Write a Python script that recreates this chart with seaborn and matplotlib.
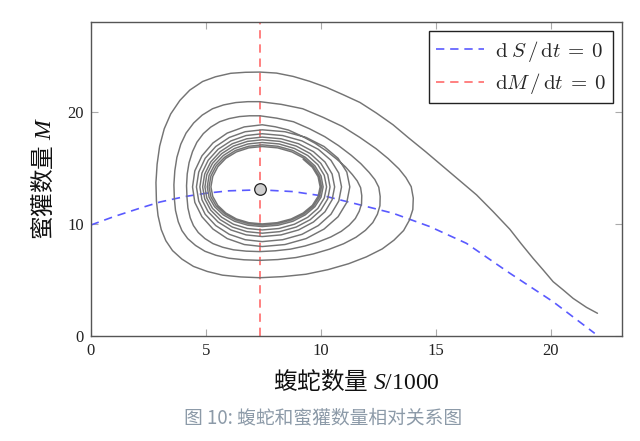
import matplotlib
matplotlib.use("Agg")
import matplotlib.pyplot as plt
import seaborn as sns

# ---------------- data ----------------
x_ticks = [0, 5, 10, 15, 20]
y_ticks = [0, 10, 20]

# equilibrium point
eq_S = [7.35]
eq_M = [13.1]

# dS/dt = 0 nullcline (blue dashed)
null_S = [0, 1.0, 2.13, 3.0, 4.09, 5.03, 6.0, 7.35, 8.8, 10.25, 11.7, 13.14, 14.74, 16.33, 18.22, 20.1, 21.91]
null_M = [9.9, 10.65, 11.4, 11.95, 12.44, 12.74, 12.95, 13.04, 12.88, 12.44, 11.7, 10.95, 9.76, 8.27, 5.6, 3.06, 0.24]

# dM/dt = 0 nullcline (red dashed vertical)
vline_S = [7.35, 7.35]
vline_M = [0, 28]

# trajectory (spiral), counter-clockwise, starting at lower right
start_S = [22.03, 21.55, 20.97, 20.54, 20.10, 19.67, 19.23, 18.72, 18.22, 17.49, 16.77, 15.61,
           14.55, 13.80, 13.14, 12.42, 11.70, 10.97, 10.25, 9.52, 8.80, 8.07]
start_M = [2.03, 2.56, 3.36, 4.11, 4.85, 5.89, 6.93, 8.21, 9.52, 11.10, 12.59, 14.61,
           16.45, 17.70, 18.84, 19.88, 20.83, 21.52, 22.17, 22.71, 23.15, 23.45]

loop1_S = [7.35, 6.72, 6.08, 5.42, 4.86, 4.30, 3.87, 3.47, 3.19, 2.99, 2.88, 2.83, 2.85, 2.92, 3.06, 3.26,
           3.55, 3.96, 4.46, 5.06, 5.72, 6.52, 7.35, 8.35, 9.35, 10.31, 11.21, 11.98, 12.67, 13.18,
           13.60, 13.85, 14.00, 14.02, 13.93, 13.70, 13.40, 12.93, 12.40, 11.69, 10.94, 10.09, 9.21, 8.28]
loop1_M = [23.54, 23.52, 23.43, 23.12, 22.70, 21.93, 21.01, 19.80, 18.48, 16.93, 15.32, 13.69, 12.06, 10.74, 9.49, 8.50,
           7.62, 6.86, 6.21, 5.76, 5.43, 5.27, 5.20, 5.30, 5.51, 5.92, 6.45, 7.06, 7.77, 8.55,
           9.41, 10.33, 11.28, 12.30, 13.32, 14.13, 14.90, 15.82, 16.71, 17.72, 18.69, 19.51, 20.27, 20.66]
loop2_S = [7.35, 6.82, 6.30, 5.77, 5.29, 4.84, 4.47, 4.14, 3.91, 3.74, 3.65, 3.61, 3.63, 3.68, 3.80, 3.96,
           4.21, 4.55, 4.96, 5.44, 6.00, 6.66, 7.35, 8.13, 8.92, 9.67, 10.38, 10.99, 11.53, 11.94,
           12.26, 12.46, 12.57, 12.58, 12.52, 12.35, 12.10, 11.74, 11.32, 10.77, 10.17, 9.51, 8.81, 8.08]
loop2_M = [20.90, 20.90, 20.82, 20.61, 20.27, 19.70, 19.00, 18.10, 17.11, 15.93, 14.74, 13.49, 12.25, 11.20, 10.19, 9.40,
           8.69, 8.08, 7.56, 7.20, 6.94, 6.80, 6.75, 6.82, 7.00, 7.32, 7.75, 8.23, 8.81, 9.43,
           10.12, 10.86, 11.62, 12.45, 13.27, 13.95, 14.59, 15.37, 16.12, 16.98, 17.78, 18.48, 19.11, 19.43]
loop3_S = [7.35, 6.90, 6.46, 6.01, 5.60, 5.21, 4.89, 4.61, 4.42, 4.27, 4.19, 4.16, 4.18, 4.22, 4.32, 4.46,
           4.67, 4.96, 5.31, 5.73, 6.20, 6.76, 7.35, 8.01, 8.68, 9.31, 9.91, 10.43, 10.89, 11.23,
           11.50, 11.67, 11.77, 11.78, 11.73, 11.58, 11.37, 11.07, 10.71, 10.25, 9.74, 9.18, 8.59, 8.02]
loop3_M = [19.64, 19.64, 19.57, 19.39, 19.11, 18.63, 18.05, 17.28, 16.45, 15.46, 14.46, 13.40, 12.34, 11.42, 10.54, 9.85,
           9.23, 8.69, 8.24, 7.92, 7.69, 7.57, 7.53, 7.60, 7.75, 8.03, 8.41, 8.83, 9.34, 9.88,
           10.48, 11.13, 11.80, 12.52, 13.23, 13.84, 14.40, 15.09, 15.74, 16.50, 17.20, 17.82, 18.37, 18.66]
loop4_S = [7.45, 6.67, 5.93, 5.31, 4.83, 4.52, 4.42, 4.52, 4.83, 5.31, 5.93, 6.67,
           7.45, 8.44, 9.36, 10.14, 10.75, 11.13, 11.26, 11.13, 10.75, 10.14, 9.36, 8.44]
loop4_M = [18.84, 18.65, 18.10, 17.22, 16.07, 14.73, 13.30, 11.92, 10.64, 9.54, 8.69, 8.16,
           7.98, 8.16, 8.69, 9.54, 10.64, 11.92, 13.30, 14.62, 15.85, 16.90, 17.71, 18.22]
loop5_S = [7.45, 6.71, 6.02, 5.43, 4.97, 4.69, 4.59, 4.69, 4.97, 5.43, 6.02, 6.71,
           7.45, 8.34, 9.18, 9.89, 10.44, 10.78, 10.90, 10.78, 10.44, 9.89, 9.18, 8.34]
loop5_M = [18.39, 18.22, 17.71, 16.90, 15.85, 14.62, 13.30, 12.04, 10.86, 9.85, 9.07, 8.59,
           8.42, 8.59, 9.07, 9.85, 10.86, 12.04, 13.30, 14.53, 15.67, 16.65, 17.40, 17.88]
loop6_S = [7.45, 6.75, 6.09, 5.53, 5.10, 4.83, 4.74, 4.83, 5.10, 5.53, 6.09, 6.75,
           7.45, 8.27, 9.03, 9.68, 10.18, 10.49, 10.60, 10.49, 10.18, 9.68, 9.03, 8.27]
loop6_M = [18.04, 17.88, 17.40, 16.65, 15.67, 14.53, 13.30, 12.15, 11.08, 10.17, 9.46, 9.02,
           8.87, 9.02, 9.46, 10.17, 11.08, 12.15, 13.30, 14.45, 15.52, 16.44, 17.15, 17.59]
loop7_S = [7.45, 6.78, 6.15, 5.62, 5.21, 4.95, 4.86, 4.95, 5.21, 5.62, 6.15, 6.78,
           7.45, 8.21, 8.93, 9.54, 10.00, 10.30, 10.40, 10.30, 10.00, 9.54, 8.93, 8.21]
loop7_M = [17.74, 17.59, 17.15, 16.44, 15.52, 14.45, 13.30, 12.23, 11.23, 10.38, 9.72, 9.31,
           9.17, 9.31, 9.72, 10.38, 11.23, 12.23, 13.30, 14.39, 15.40, 16.27, 16.94, 17.36]
loop8_S = [7.45, 6.81, 6.20, 5.69, 5.29, 5.04, 4.96, 5.04, 5.29, 5.69, 6.20, 6.81,
           7.45, 8.18, 8.85, 9.43, 9.87, 10.15, 10.25, 10.15, 9.87, 9.43, 8.85, 8.18]
loop8_M = [17.50, 17.36, 16.94, 16.27, 15.40, 14.39, 13.30, 12.31, 11.38, 10.59, 9.97, 9.59,
           9.46, 9.59, 9.97, 10.59, 11.38, 12.31, 13.30, 14.33, 15.28, 16.10, 16.73, 17.13]
loop9_S = [7.45, 6.83, 6.25, 5.76, 5.38, 5.14, 5.06, 5.14, 5.38, 5.76, 6.25, 6.83,
           7.45, 8.14, 8.78, 9.32, 9.74, 10.01, 10.10, 10.01, 9.74, 9.32, 8.78, 8.14]
loop9_M = [17.26, 17.13, 16.73, 16.10, 15.28, 14.33, 13.30, 12.38, 11.53, 10.80, 10.23, 9.88,
           9.76, 9.88, 10.23, 10.80, 11.53, 12.38, 13.30, 14.27, 15.18, 15.95, 16.55, 16.92]
loop10_S = [7.45, 6.85, 6.29, 5.82, 5.45, 5.22, 5.14, 5.22, 5.45, 5.82, 6.29, 6.85,
            7.45, 8.12, 8.74, 9.27, 9.68, 9.94, 10.03, 9.94, 9.68, 9.27, 8.74, 8.12]
loop10_M = [17.05, 16.92, 16.55, 15.95, 15.18, 14.27, 13.30, 12.42, 11.60, 10.90, 10.36, 10.02,
            9.90, 10.02, 10.36, 10.90, 11.60, 12.42, 13.30, 14.23, 15.10, 15.85, 16.42, 16.78]
loop11_S = [7.45, 6.87, 6.33, 5.87, 5.52, 5.30, 5.22, 5.30, 5.52, 5.87, 6.33, 6.87,
            7.45, 8.10, 8.71, 9.23, 9.63, 9.88, 9.97, 9.88, 9.63, 9.23]
loop11_M = [16.90, 16.78, 16.42, 15.85, 15.10, 14.23, 13.30, 12.45, 11.65, 10.97, 10.44, 10.11,
            10.00, 10.11, 10.44, 10.97, 11.65, 12.45, 13.30, 14.21, 15.05, 15.77]

traj_S = (start_S + loop1_S + loop2_S + loop3_S + loop4_S + loop5_S + loop6_S
          + loop7_S + loop8_S + loop9_S + loop10_S + loop11_S)
traj_M = (start_M + loop1_M + loop2_M + loop3_M + loop4_M + loop5_M + loop6_M
          + loop7_M + loop8_M + loop9_M + loop10_M + loop11_M)

xlabel = r"$\mathsf{蝮蛇数量}\ S/1000$"
ylabel = r"$\mathsf{蜜獾数量}\ M$"
caption = "图 10: 蝮蛇和蜜獾数量相对关系图"
legend_labels = [r"$\mathrm{d}\;S\,/\,\mathrm{d}t\:=\:0$", r"$\mathrm{d}M\,/\,\mathrm{d}t\:=\:0$"]

# ---------------- style ----------------
sns.set_theme(style="white")
plt.rcParams["font.family"] = ["Liberation Serif", "Noto Sans CJK SC", "DejaVu Sans"]
plt.rcParams["mathtext.fontset"] = "custom"
plt.rcParams["mathtext.rm"] = "Liberation Serif"
plt.rcParams["mathtext.it"] = "Liberation Serif:italic"
plt.rcParams["mathtext.bf"] = "Liberation Serif:bold"
plt.rcParams["mathtext.sf"] = "Noto Sans CJK SC"

fig = plt.figure(figsize=(6.4, 4.41), dpi=100)
ax = fig.add_axes([0.142, 0.238, 0.830, 0.712])

sns.lineplot(x=traj_S, y=traj_M, sort=False, estimator=None, ax=ax,
             color="#747474", linewidth=1.05, solid_joinstyle="round", zorder=3)
sns.lineplot(x=null_S, y=null_M, sort=False, estimator=None, ax=ax,
             color="#5a5aff", linewidth=1.2, linestyle=(0, (5, 3.5)), zorder=2,
             label=legend_labels[0])
sns.lineplot(x=vline_S, y=vline_M, sort=False, estimator=None, ax=ax,
             color="#ff6b6b", linewidth=1.2, linestyle=(0, (5, 3.5)), zorder=2,
             label=legend_labels[1])
sns.scatterplot(x=eq_S, y=eq_M, ax=ax, s=70, color="#cfcfcf",
                edgecolor="#222222", linewidth=0.9, zorder=5)

ax.set_xlim(0, 23.1)
ax.set_ylim(0, 28)
ax.set_xticks(x_ticks)
ax.set_yticks(y_ticks)
ax.tick_params(direction="in", length=5, width=0.8, color="#aaaaaa",
               top=True, right=True, bottom=True, left=True,
               labelsize=12, labelcolor="#222222", pad=5)
for sp in ax.spines.values():
    sp.set_color("#555555")
    sp.set_linewidth(1.0)

ax.set_xlabel(xlabel, fontsize=17, color="#111111", labelpad=7)
ax.set_ylabel(ylabel, fontsize=17, color="#111111", labelpad=8)

leg = ax.legend(loc="upper right", frameon=True, fancybox=False,
                prop={"size": 15, "math_fontfamily": "cm"},
                edgecolor="#222222", framealpha=1, handlelength=2.3,
                borderpad=0.35, labelspacing=0.35, handletextpad=0.5,
                borderaxespad=0.45)
leg.get_frame().set_linewidth(1.0)

fig.text(0.505, 0.052, caption, ha="center", va="center", fontsize=13.5,
         color="#8c9aa8", family=["Noto Sans CJK SC", "DejaVu Sans"])

fig.savefig("out.png", dpi=100)
